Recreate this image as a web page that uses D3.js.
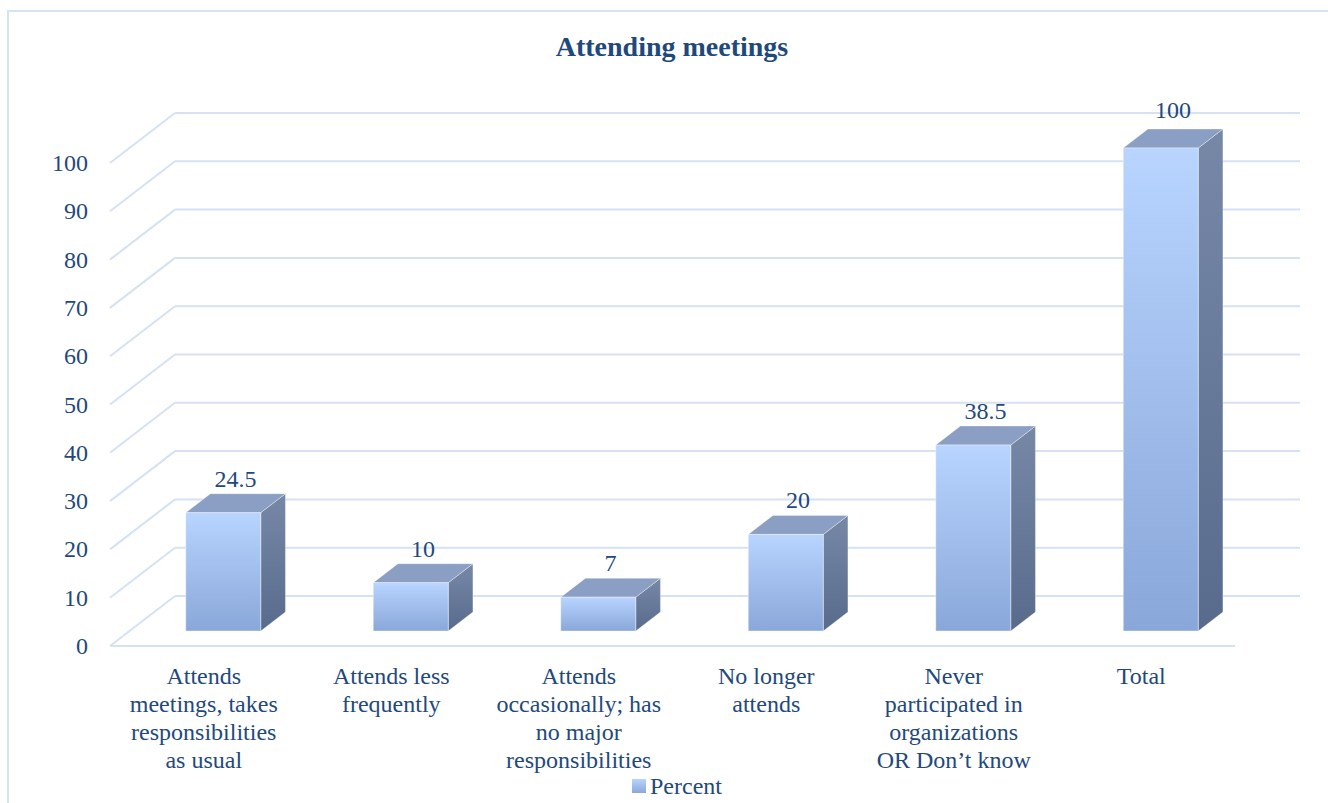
<!DOCTYPE html>
<html>
<head>
<meta charset="utf-8">
<script src="https://cdn.jsdelivr.net/npm/d3@7"></script>
<style>
  html, body { margin: 0; padding: 0; background: #fff; }
  svg { display: block; }
  text { font-family: "Liberation Serif", "Times New Roman", serif; fill: #1F497D; }
</style>
</head>
<body>
<svg id="chart" width="1328" height="803"></svg>
<script>
// ---- data ----
const categories = [
  "Attends meetings, takes responsibilities as usual",
  "Attends less frequently",
  "Attends occasionally; has no major responsibilities",
  "No longer attends",
  "Never participated in organizations OR Don’t know",
  "Total"
];
const categoryLines = [
  ["Attends", "meetings, takes", "responsibilities", "as usual"],
  ["Attends less", "frequently"],
  ["Attends", "occasionally; has", "no major", "responsibilities"],
  ["No longer", "attends"],
  ["Never", "participated in", "organizations", "OR Don’t know"],
  ["Total"]
];
const percent = [24.5, 10, 7, 20, 38.5, 100];
const yTicks = [0, 10, 20, 30, 40, 50, 60, 70, 80, 90, 100];
const seriesName = "Percent";
const title = "Attending meetings";

// ---- layout ----
const svg = d3.select("#chart");
const plotLeft = 110, plotRight = 1235;
const depthX = 65, depthY = -50;      // back wall offset
const barF = 0.30, barB = 0.68;        // bar depth fractions

const x = d3.scaleBand().domain(categories).range([plotLeft, plotRight])
  .paddingInner(0.6).paddingOuter(0.3);
const xCat = d3.scaleBand().domain(categories).range([plotLeft, plotRight]);
const y = d3.scaleLinear().domain([0, 100]).range([646, 163]);

const defs = svg.append("defs");
const gFront = defs.append("linearGradient").attr("id", "gFront")
  .attr("x1", 0).attr("y1", 0).attr("x2", 0).attr("y2", 1);
gFront.append("stop").attr("offset", "0%").attr("stop-color", "#b8d4ff");
gFront.append("stop").attr("offset", "100%").attr("stop-color", "#89a7d9");
const gSide = defs.append("linearGradient").attr("id", "gSide")
  .attr("x1", 0).attr("y1", 0).attr("x2", 0).attr("y2", 1);
gSide.append("stop").attr("offset", "0%").attr("stop-color", "#7788a7");
gSide.append("stop").attr("offset", "100%").attr("stop-color", "#586b8c");

// outer border
svg.append("rect").attr("x", 8).attr("y", 11).attr("width", 1330).attr("height", 800)
  .attr("fill", "none").attr("stroke", "#d6e3f3").attr("stroke-width", 2);

// title
svg.append("text").attr("x", 672).attr("y", 56).attr("text-anchor", "middle")
  .attr("font-size", 28).attr("font-weight", "bold").text(title);

// gridlines
const grid = svg.append("g").attr("stroke", "#d5e2f3").attr("stroke-width", 2).attr("fill", "none");
yTicks.forEach(v => {
  grid.append("line").attr("x1", plotLeft).attr("y1", y(v))
    .attr("x2", plotLeft + depthX).attr("y2", y(v) + depthY);
  grid.append("line").attr("x1", plotLeft + depthX).attr("y1", y(v) + depthY)
    .attr("x2", plotRight + depthX).attr("y2", y(v) + depthY);
});
grid.append("line").attr("x1", plotLeft).attr("y1", y(0)).attr("x2", plotRight).attr("y2", y(0));

// y tick labels
svg.append("g").selectAll("text").data(yTicks).join("text")
  .attr("x", 88).attr("y", d => y(d) + 8).attr("text-anchor", "end")
  .attr("font-size", 24).text(d => d);

// bars
const bars = svg.append("g");
const fx = depthX * barF, fy = depthY * barF;
const dx = depthX * (barB - barF), dy = depthY * (barB - barF);
categories.forEach((c, i) => {
  const v = percent[i];
  const x0 = x(c) + fx, x1 = x0 + x.bandwidth();
  const yb = y(0) + fy, yt = y(v) + fy;
  const g = bars.append("g");
  // side
  g.append("path").attr("d", `M${x1},${yt} L${x1 + dx},${yt + dy} L${x1 + dx},${yb + dy} L${x1},${yb} Z`)
    .attr("fill", "url(#gSide)").attr("stroke", "rgba(255,255,255,0.35)").attr("stroke-width", 1);
  // top
  g.append("path").attr("d", `M${x0},${yt} L${x0 + dx},${yt + dy} L${x1 + dx},${yt + dy} L${x1},${yt} Z`)
    .attr("fill", "#8a9fc3").attr("stroke", "rgba(255,255,255,0.35)").attr("stroke-width", 1);
  // front
  g.append("rect").attr("x", x0).attr("y", yt).attr("width", x.bandwidth()).attr("height", yb - yt)
    .attr("fill", "url(#gFront)").attr("stroke", "rgba(255,255,255,0.4)").attr("stroke-width", 1);
  // value label
  svg.append("text").attr("x", x0 + x.bandwidth() / 2 + dx / 2).attr("y", yt + dy - (v > 90 ? 11 : 7))
    .attr("text-anchor", "middle").attr("font-size", 24).text(v);
});

// category labels
categories.forEach((c, i) => {
  const t = svg.append("text").attr("text-anchor", "middle").attr("font-size", 24);
  categoryLines[i].forEach((line, j) => {
    t.append("tspan").attr("x", xCat(c) + xCat.bandwidth() / 2).attr("y", 684 + j * 28).text(line);
  });
});

// legend
svg.append("rect").attr("x", 632).attr("y", 779).attr("width", 14).attr("height", 14)
  .attr("fill", "url(#gFront)");
svg.append("text").attr("x", 650).attr("y", 794).attr("font-size", 24).text(seriesName);
</script>
</body>
</html>
